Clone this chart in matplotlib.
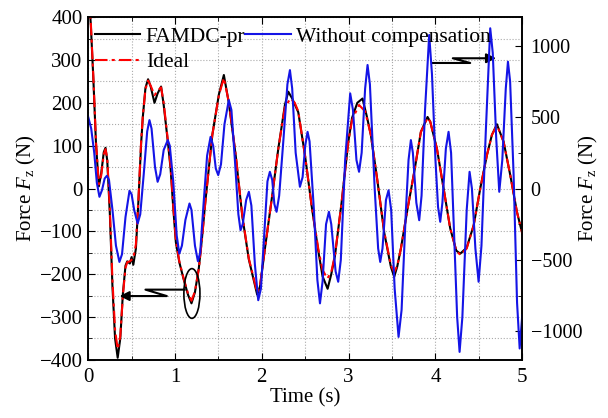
import matplotlib
matplotlib.use('Agg')
import matplotlib.pyplot as plt
from matplotlib.patches import Ellipse
from matplotlib.ticker import MultipleLocator

plt.rcParams['font.family'] = ['Liberation Serif', 'DejaVu Serif']
plt.rcParams['mathtext.fontset'] = 'custom'
plt.rcParams['mathtext.rm'] = 'Liberation Serif'
plt.rcParams['mathtext.it'] = 'Liberation Serif:italic'

# ---------------- data ----------------
# Ideal (left axis, N)
t_ideal = [0.0, 0.03, 0.06, 0.09, 0.123, 0.15, 0.18, 0.2, 0.22, 0.25, 0.28, 0.31, 0.34, 0.37,
           0.4, 0.43, 0.45, 0.48, 0.52, 0.55, 0.58, 0.61, 0.63, 0.66, 0.69, 0.72, 0.764, 0.8,
           0.84, 0.87, 0.92, 0.95, 0.98, 1.01, 1.05, 1.1, 1.15, 1.19, 1.23, 1.275, 1.31, 1.35,
           1.43, 1.506, 1.563, 1.62, 1.7, 1.775, 1.85, 1.947, 1.98, 2.036, 2.11, 2.19, 2.266,
           2.33, 2.38, 2.42, 2.497, 2.573, 2.65, 2.7, 2.755, 2.8, 2.842, 2.92, 2.996, 3.04,
           3.12, 3.19, 3.256, 3.333, 3.41, 3.487, 3.525, 3.56, 3.602, 3.679, 3.756, 3.832,
           3.909, 3.94, 4.017, 4.094, 4.17, 4.24, 4.286, 4.36, 4.44, 4.516, 4.593, 4.65,
           4.708, 4.785, 4.862, 4.938, 5.0]
f_ideal = [470, 390, 260, 110, 10, 30, 80, 92, 70, -50, -215, -330, -375, -345,
           -250, -185, -172, -170, -163, -130, -20, 110, 170, 232, 252, 240, 218, 228,
           236, 200, 109, 50, -40, -120, -170, -210, -245, -262, -240, -187, -120, -31,
           125, 218, 258, 202, 78, -62, -163, -243, -225, -140, -31, 93, 190,
           210, 200, 180, 78, -39, -140, -190, -210, -195, -156, -31, 109, 160,
           195, 180, 125, 16, -101, -179, -195, -180, -140, -47, 39, 132,
           165, 156, 93, 0, -93, -145, -155, -140, -86, 0, 78, 125,
           148, 109, 31, -54, -105]

# FAMDC-pr (left axis, N)
t_famdc = [0.0, 0.03, 0.06, 0.09, 0.123, 0.15, 0.18, 0.2, 0.22, 0.25, 0.28, 0.31, 0.34, 0.37,
           0.4, 0.43, 0.45, 0.48, 0.5, 0.52, 0.55, 0.58, 0.61, 0.63, 0.66, 0.69, 0.72, 0.764,
           0.8, 0.84, 0.87, 0.92, 0.95, 0.98, 1.01, 1.05, 1.1, 1.15, 1.19, 1.23, 1.275, 1.31,
           1.35, 1.43, 1.506, 1.563, 1.62, 1.7, 1.775, 1.85, 1.947, 1.98, 2.036, 2.11, 2.19,
           2.266, 2.305, 2.35, 2.42, 2.497, 2.573, 2.65, 2.7, 2.758, 2.8, 2.842, 2.92, 2.996,
           3.04, 3.1, 3.16, 3.21, 3.256, 3.333, 3.41, 3.487, 3.525, 3.56, 3.602, 3.679, 3.756,
           3.832, 3.909, 3.94, 4.017, 4.094, 4.17, 4.24, 4.286, 4.36, 4.44, 4.516, 4.593,
           4.65, 4.708, 4.785, 4.862, 4.938, 5.0]
f_famdc = [470, 385, 255, 105, 5, 35, 85, 95, 65, -60, -230, -350, -395, -350,
           -245, -180, -170, -175, -160, -178, -140, -25, 105, 168, 235, 255, 238, 200,
           222, 238, 195, 105, 45, -45, -125, -172, -212, -248, -268, -242, -185, -118,
           -30, 125, 220, 265, 200, 76, -64, -165, -248, -228, -140, -31, 93,
           195, 226, 210, 178, 78, -39, -145, -205, -234, -200, -158, -31, 109,
           165, 200, 210, 168, 125, 16, -103, -183, -206, -182, -140, -47, 39,
           132, 167, 156, 93, 0, -93, -145, -152, -138, -86, 0, 78,
           125, 150, 109, 31, -54, -105]

# Without compensation (right axis, N)
t_wo = [0.0, 0.035, 0.07, 0.1, 0.13, 0.16, 0.19, 0.215, 0.24, 0.28, 0.32, 0.36, 0.39, 0.43,
        0.476, 0.5, 0.53, 0.57, 0.6, 0.64, 0.68, 0.706, 0.73, 0.77, 0.8, 0.83, 0.87, 0.917,
        0.94, 0.98, 1.02, 1.05, 1.08, 1.12, 1.167, 1.19, 1.23, 1.264, 1.29, 1.33, 1.37,
        1.41, 1.44, 1.47, 1.498, 1.53, 1.57, 1.62, 1.65, 1.69, 1.73, 1.755, 1.78, 1.82,
        1.851, 1.88, 1.92, 1.959, 1.99, 2.03, 2.065, 2.093, 2.12, 2.145, 2.17, 2.2, 2.25,
        2.295, 2.324, 2.35, 2.39, 2.439, 2.47, 2.5, 2.527, 2.55, 2.6, 2.64, 2.67, 2.7,
        2.74, 2.773, 2.8, 2.85, 2.88, 2.91, 2.96, 3.018, 3.05, 3.09, 3.12, 3.15, 3.19,
        3.218, 3.245, 3.3, 3.34, 3.364, 3.39, 3.43, 3.46, 3.49, 3.53, 3.575, 3.61, 3.66,
        3.69, 3.717, 3.74, 3.78, 3.813, 3.84, 3.88, 3.928, 3.96, 4.0, 4.03, 4.055, 4.08,
        4.12, 4.151, 4.18, 4.22, 4.25, 4.278, 4.31, 4.36, 4.393, 4.42, 4.46, 4.497, 4.53,
        4.58, 4.631, 4.66, 4.7, 4.735, 4.77, 4.81, 4.835, 4.86, 4.9, 4.94, 4.97, 5.0]
f_wo = [502, 420, 250, 40, -58, -10, 70, 89, 60, -150, -400, -514, -460, -200,
        -16, -40, -150, -245, -180, 100, 400, 479, 420, 150, 47, 100, 270, 339,
        300, 50, -330, -456, -400, -220, -105, -150, -400, -509, -450, -100, 230,
        362, 300, 140, 94, 170, 450, 619, 550, 200, -180, -292, -250, -80,
        -23, -120, -530, -782, -700, -300, 50, 117, 60, -110, -163, -50, 350,
        730, 829, 700, 250, 12, 80, 300, 397, 330, -150, -640, -804, -650,
        -250, -163, -250, -580, -653, -500, 200, 666, 550, 200, 117, 250, 700,
        865, 730, 0, -420, -514, -420, -80, -12, -150, -700, -1039, -850, -150,
        200, 339, 250, -100, -222, -50, 550, 1075, 800, 200, -130, -233, -100,
        280, 397, 250, -400, -900, -1144, -900, -150, 117, 0, -420, -653, -400,
        400, 1122, 950, 350, -23, 200, 700, 888, 750, 100, -800, -1120, -886]

fig = plt.figure(figsize=(6.08, 4.18), dpi=100)
ax = fig.add_axes([0.145, 0.139, 0.714, 0.82])
ax2 = ax.twinx()

ax.plot(t_famdc, f_famdc, color='black', lw=1.5, label='FAMDC-pr', zorder=3)
ax.plot(t_ideal, f_ideal, color='red', lw=1.5, ls=(0, (6, 2, 1.5, 2)), label='Ideal', zorder=4)
ax2.plot(t_wo, f_wo, color='#1414e6', lw=1.5, label='Without compensation')

ax.set_xlim(0, 5)
ax.set_ylim(-400, 400)
ax2.set_ylim(-1200, 1200)

ax.xaxis.set_major_locator(MultipleLocator(1))
ax.xaxis.set_minor_locator(MultipleLocator(0.5))
ax.yaxis.set_major_locator(MultipleLocator(100))
ax.yaxis.set_minor_locator(MultipleLocator(50))
ax2.yaxis.set_major_locator(MultipleLocator(500))
ax2.yaxis.set_minor_locator(MultipleLocator(250))

fs = 15
ax.grid(True, which='both', color='#aaaaaa', ls=':', lw=0.8)
ax.tick_params(axis='x', which='both', direction='in', top=True, labelsize=fs, pad=6)
ax.tick_params(axis='y', which='both', direction='in', right=False, labelsize=fs, pad=4)
ax.tick_params(which='major', length=5)
ax.tick_params(which='minor', length=3)
ax2.tick_params(axis='y', which='both', direction='in', labelsize=14.5, pad=6)
ax2.tick_params(which='major', length=5)
ax2.tick_params(which='minor', length=3)

ax.set_xlabel('Time (s)', fontsize=fs, labelpad=1)
ax.set_ylabel(r'Force $F_{\mathrm{z}}$ (N)', fontsize=fs, labelpad=1)
ax2.set_ylabel(r'Force $F_{\mathrm{z}}$ (N)', fontsize=fs)
ax2.yaxis.set_label_coords(1.125, 0.5)

for sp in list(ax.spines.values()) + list(ax2.spines.values()):
    sp.set_linewidth(1.2)

# legend
h1, l1 = ax.get_legend_handles_labels()
h2, l2 = ax2.get_legend_handles_labels()
leg = ax2.legend(h1 + h2, l1 + l2, ncol=2, loc='upper left', bbox_to_anchor=(0.016, 0.972),
                 frameon=False, fontsize=15.5, handlelength=2.1, handletextpad=0.25,
                 columnspacing=0.0, labelspacing=0.25, borderpad=0, borderaxespad=0)

# annotations: ellipse + broken arrows
ax.add_patch(Ellipse((1.195, -245), 0.185, 116, fill=False, color='black', lw=1.2, zorder=5))
ax.plot([1.11, 0.66, 0.906, 0.45], [-236, -236, -251, -251], color='black', lw=1.5, zorder=5)
ax.annotate('', xy=(0.33, -251), xytext=(0.5, -251),
            arrowprops=dict(arrowstyle='-|>', color='black', lw=1.5, mutation_scale=14), zorder=5)
ax.plot([3.96, 4.40, 4.20, 4.60], [293, 293, 304, 304], color='black', lw=1.5, zorder=5)
ax.annotate('', xy=(4.73, 304), xytext=(4.55, 304),
            arrowprops=dict(arrowstyle='-|>', color='black', lw=1.5, mutation_scale=14), zorder=5)

fig.savefig('out.png', dpi=100)
